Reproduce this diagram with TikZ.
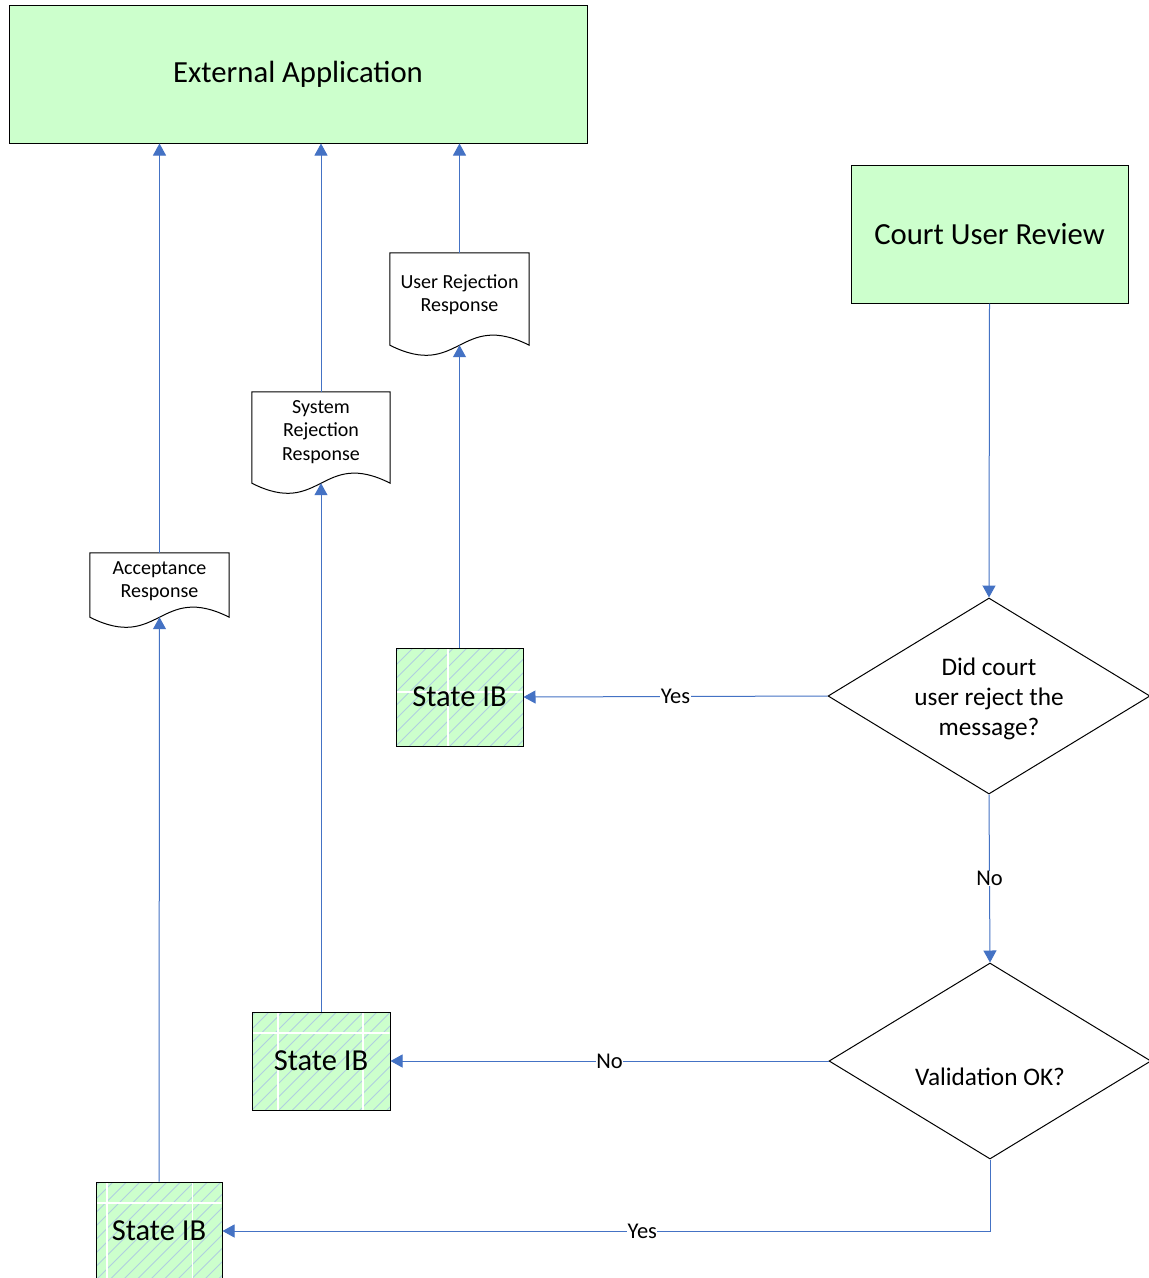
\documentclass[tikz,border=0pt]{standalone}
\usepackage{fontspec}
\setmainfont{Carlito}
\usetikzlibrary{shapes.geometric,arrows.meta,calc}
\definecolor{boxgreen}{HTML}{CCFFCC}
\definecolor{connblue}{HTML}{4472C4}
\definecolor{hatchblue}{HTML}{B0CFE0}
\tikzset{
  bigbox/.style={draw=black, line width=1pt, fill=boxgreen, inner sep=0pt, font=\fontsize{30.7}{36}\selectfont},
  stateib/.style={draw=black, line width=1pt, fill=boxgreen, inner sep=0pt, minimum height=98pt,
    font=\fontsize{30.5}{36}\selectfont,
    path picture={\foreach \i in {-11,...,13}{\draw[hatchblue, line width=1pt]
      ($(path picture bounding box.south west)+(\i*13.5,0)$) -- ++(150,-150);}}},
  decision/.style={diamond, draw=black, line width=1pt, fill=white, inner sep=0pt, aspect=1.64,
    minimum width=322pt, minimum height=196pt, align=center, font=\fontsize{25.3}{30}\selectfont},
  docbox/.style={draw=none, inner sep=0pt, minimum width=139pt, align=center, font=\fontsize{20}{23.5}\selectfont},
  docline/.style={draw=black, line width=1pt, fill=white},
  conn/.style={draw=connblue, line width=1pt, -{Triangle[length=12pt,width=13pt]}},
  lbl/.style={fill=white, inner sep=0.5pt, text=black, font=\fontsize{22.5}{26}\selectfont},
  gridw/.style={draw=white, line width=1.6pt},
  ibtext/.style={draw=black, line width=1pt, minimum height=98pt, inner sep=0pt, font=\fontsize{30.5}{36}\selectfont}
}
\newcommand{\docshape}[1]{%
  \path[docline] (#1.south west) -- (#1.north west) -- (#1.north east) -- (#1.south east)
    .. controls ($(#1.south)+(0,-35)$) and ($(#1.south)+(0,35)$) .. (#1.south west) -- cycle;}
\newcommand{\ibgrid}[1]{%
  \begin{scope}
    \clip ([shift={(1,-1)}]#1.south west) rectangle ([shift={(-1,1)}]#1.north east);
    \foreach \gx in {22,107.25,192.5,277.75,363,448.25} {\draw[gridw] (\gx,0) -- (\gx,1300);}
    \foreach \gy in {692,1033,1203} {\draw[gridw] (0,\gy) -- (1149,\gy);}
  \end{scope}}
\begin{document}
\begin{tikzpicture}[x=1pt,y=-1pt]
\useasboundingbox[fill=white] (0,0) rectangle (1149,1278);

% main boxes
\node[bigbox, minimum width=578pt, minimum height=138pt] (ext) at (298,74) {External Application};
\node[bigbox, minimum width=277pt, minimum height=138pt] (cur) at (989.5,234) {Court User Review};

% decisions
\node[decision, label={[align=center, font=\fontsize{25.3}{30}\selectfont, yshift=-3pt]center:Did court\\user reject the\\message?}] (d1) at (989,696) {};
\node[decision, label={[font=\fontsize{25.3}{30}\selectfont, yshift=-16pt]center:Validation OK?}] (d2) at (990,1061) {};

% state IB boxes
\node[stateib, minimum width=127pt] (s1) at (459.5,697) {};
\node[stateib, minimum width=138pt] (s2) at (321,1061) {};
\node[stateib, minimum width=126pt] (s3) at (159,1231) {};
\ibgrid{s1}\ibgrid{s2}\ibgrid{s3}
\node[ibtext, minimum width=127pt] (s1b) at (s1) {State IB};
\node[ibtext, minimum width=138pt] (s2b) at (s2) {State IB};
\node[ibtext, minimum width=126pt] (s3b) at (s3) {State IB};

% documents
\node[docbox, minimum height=64pt] (acc) at (159.5,585) {};
\node[docbox, minimum height=91pt, minimum width=138pt] (srr) at (321,437.5) {};
\node[docbox, minimum height=92pt] (urr) at (459.5,299) {};
\docshape{acc}\docshape{srr}\docshape{urr}
\node[docbox] (acct) at (159.5,581) {Acceptance\\Response};
\node[docbox] (srrt) at (321,432) {System\\Rejection\\Response};
\node[docbox] (urrt) at (459.5,294.5) {User Rejection\\Response};

% connectors
\draw[conn] (cur.south) -- (d1.north);
\draw[conn] (d1.west) -- node[lbl]{Yes} (s1.east);
\draw[conn] (d1.south) -- node[lbl]{No} (d2.north);
\draw[conn] (d2.west) -- node[lbl]{No} (s2.east);
\draw[conn] (d2.south) -- (d2.south |- s3.east) -- node[lbl, pos=0.453]{Yes} (s3.east);

\draw[conn] (s1.north) -- (urr.south);
\draw[conn] (urr.north) -- (urr.north |- ext.south);
\draw[conn] (s2.north) -- (srr.south);
\draw[conn] (srr.north) -- (srr.north |- ext.south);
\draw[conn] (s3.north) -- (acc.south);
\draw[conn] (acc.north) -- (acc.north |- ext.south);
\end{tikzpicture}
\end{document}
